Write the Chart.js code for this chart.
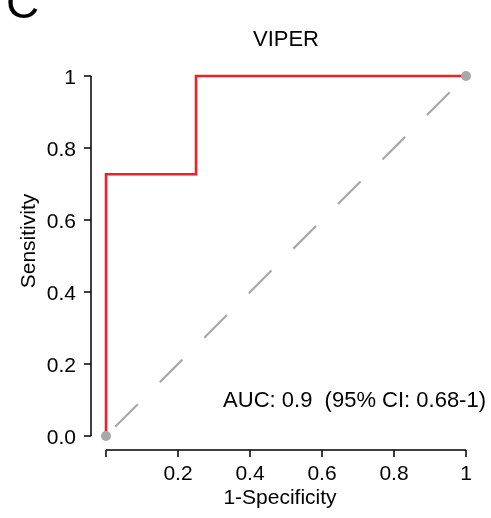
<!DOCTYPE html>
<html>
<head>
<meta charset="utf-8">
<script src="https://cdn.jsdelivr.net/npm/chart.js@4/dist/chart.umd.min.js"></script>
<style>
  html, body { margin: 0; padding: 0; background: #fff; }
  #roc { display: block; }
</style>
</head>
<body>
<canvas id="roc" width="491" height="518"></canvas>
<script>
"use strict";

// ---- data ----
const rocFpr = [0, 0, 0.25, 0.25, 1];        // 1-specificity
const rocTpr = [0, 0.727, 0.727, 1, 1];      // sensitivity
const refFpr = [0, 1];                        // chance diagonal
const refTpr = [0, 1];
const xTicks = [0, 0.2, 0.4, 0.6, 0.8, 1];
const xTickLabels = ["", "0.2", "0.4", "0.6", "0.8", "1"];
const yTicks = [0, 0.2, 0.4, 0.6, 0.8, 1];
const yTickLabels = ["0.0", "0.2", "0.4", "0.6", "0.8", "1"];
const panelLetter = "C";
const chartTitle = "VIPER";
const xTitle = "1-Specificity";
const yTitle = "Sensitivity";
const aucText = "AUC: 0.9  (95% CI: 0.68-1)";

const FONT = "'Liberation Sans', Arial, sans-serif";
const GREY = "#a8a8a8";
const RED = "#ee2128";

const pts = (xs, ys) => xs.map((x, i) => ({ x, y: ys[i] }));

// ---- R-style axes + annotations, drawn through the chart scales ----
const rAxes = {
  id: "rAxes",
  afterDraw(chart) {
    const { ctx, scales: { x, y } } = chart;
    const xAxisY = 450;
    const yAxisX = 91;
    const midX = (x.getPixelForValue(0) + x.getPixelForValue(1)) / 2;
    ctx.save();
    ctx.strokeStyle = "#000";
    ctx.fillStyle = "#000";
    ctx.lineWidth = 1.5;

    // x axis
    ctx.beginPath();
    ctx.moveTo(x.getPixelForValue(xTicks[0]), xAxisY);
    ctx.lineTo(x.getPixelForValue(xTicks[xTicks.length - 1]), xAxisY);
    xTicks.forEach((v) => {
      const px = x.getPixelForValue(v);
      ctx.moveTo(px, xAxisY);
      ctx.lineTo(px, xAxisY + 7);
    });
    ctx.stroke();
    ctx.font = "21px " + FONT;
    ctx.textAlign = "center";
    ctx.textBaseline = "alphabetic";
    xTicks.forEach((v, i) => ctx.fillText(xTickLabels[i], x.getPixelForValue(v), 480));

    // y axis
    ctx.beginPath();
    ctx.moveTo(yAxisX, y.getPixelForValue(yTicks[0]));
    ctx.lineTo(yAxisX, y.getPixelForValue(yTicks[yTicks.length - 1]));
    yTicks.forEach((v) => {
      const py = y.getPixelForValue(v);
      ctx.moveTo(yAxisX, py);
      ctx.lineTo(yAxisX - 7, py);
    });
    ctx.stroke();
    ctx.textAlign = "right";
    yTicks.forEach((v, i) => ctx.fillText(yTickLabels[i], 76, y.getPixelForValue(v) + 7.5));

    // titles
    ctx.textAlign = "center";
    ctx.fillText(xTitle, 280, 504);
    ctx.save();
    ctx.translate(35, 241);
    ctx.rotate(-Math.PI / 2);
    ctx.fillText(yTitle, 0, 0);
    ctx.restore();

    ctx.font = "22px " + FONT;
    ctx.fillText(chartTitle, midX, 46);

    ctx.font = "46px " + FONT;
    ctx.textAlign = "left";
    ctx.fillText(panelLetter, 6, 18);

    ctx.font = "22px " + FONT;
    ctx.textAlign = "right";
    ctx.fillText(aucText, 486, 407);
    ctx.restore();
  },
};

new Chart(document.getElementById("roc"), {
  type: "scatter",
  data: {
    datasets: [
      {
        label: "ends", data: pts(refFpr, refTpr), order: 0,
        pointRadius: 5, pointBackgroundColor: GREY, pointBorderWidth: 0, showLine: false,
      },
      {
        label: "ROC", data: pts(rocFpr, rocTpr), order: 1, showLine: true,
        borderColor: RED, borderWidth: 2.6, pointRadius: 0, tension: 0,
      },
      {
        label: "chance", data: pts(refFpr, refTpr), order: 2, showLine: true,
        borderColor: GREY, borderWidth: 2.2, borderDash: [32, 31], borderDashOffset: 50,
        pointRadius: 0,
      },
    ],
  },
  options: {
    responsive: false, animation: false,
    layout: { padding: { left: 91.6, right: 10.6, top: 61.6, bottom: 67.6 } },
    plugins: { legend: { display: false }, tooltip: { enabled: false } },
    scales: {
      x: { type: "linear", display: false, min: -0.04, max: 1.04 },
      y: { type: "linear", display: false, min: -0.04, max: 1.04 },
    },
  },
  plugins: [rAxes],
});
</script>
</body>
</html>
